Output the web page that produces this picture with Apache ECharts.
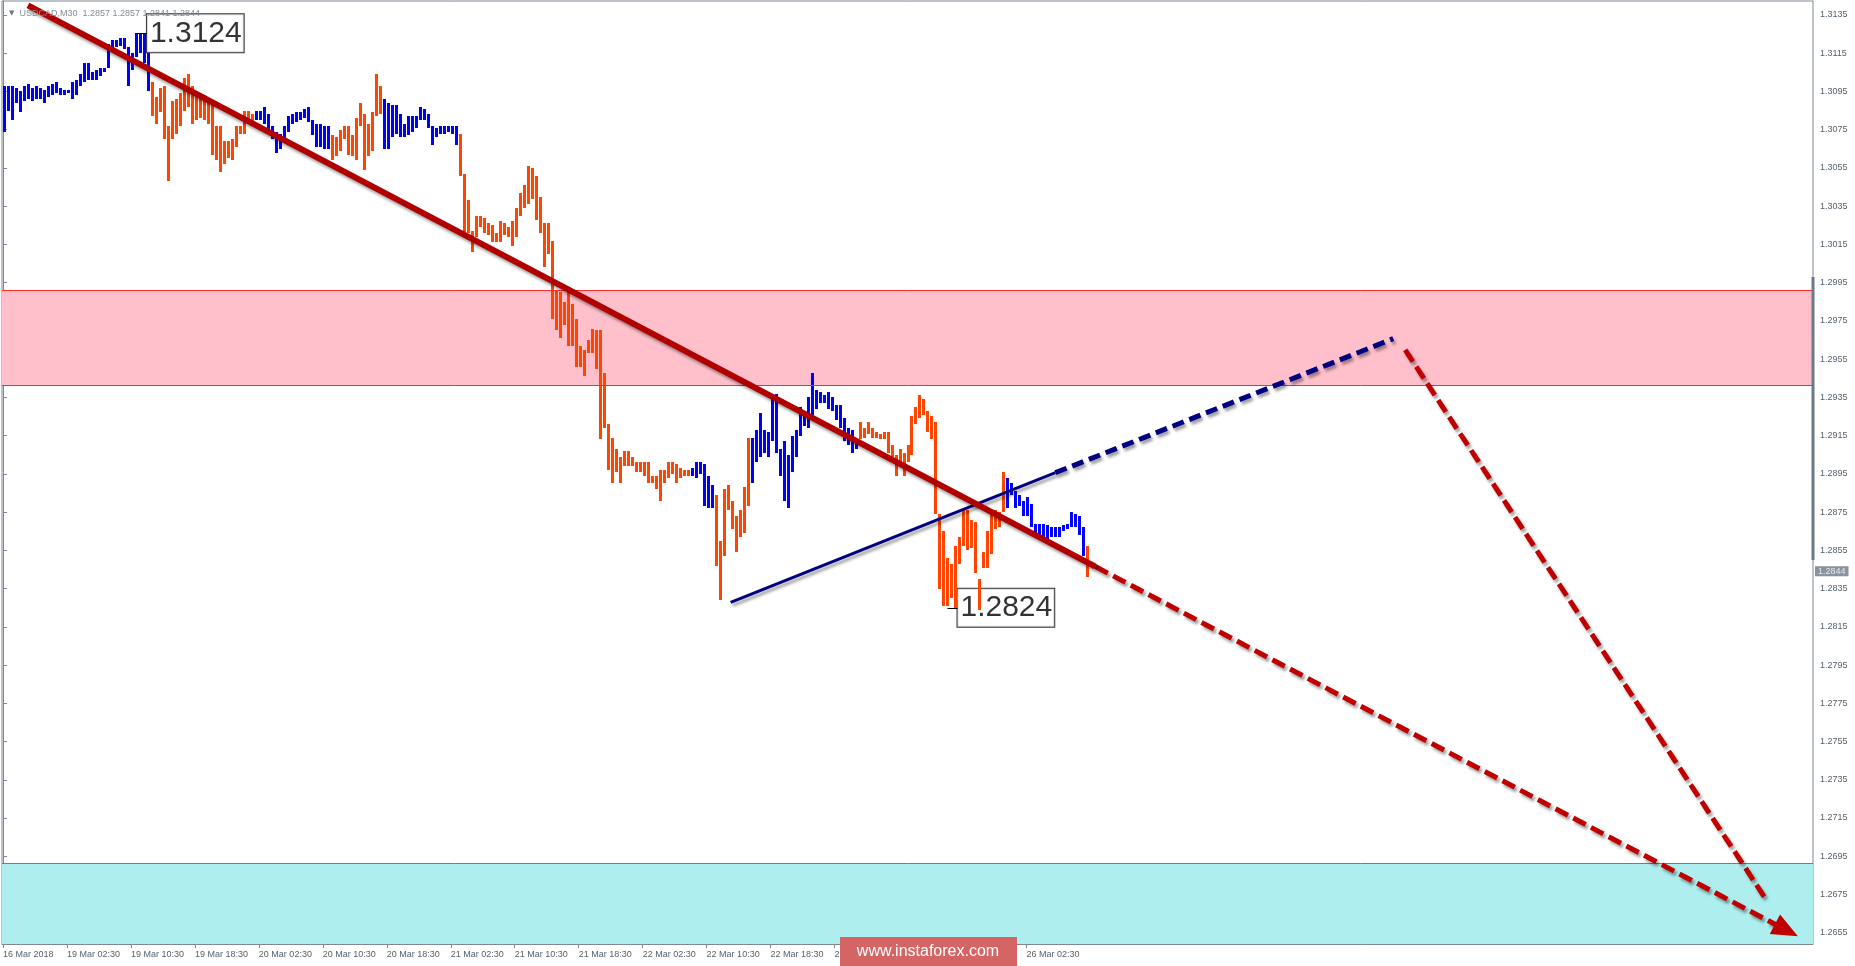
<!DOCTYPE html>
<html><head><meta charset="utf-8">
<script src="https://cdn.jsdelivr.net/npm/echarts@6/dist/echarts.min.js"></script>
<style>html,body{margin:0;padding:0;background:#fff;}#c{width:1855px;height:966px;}</style>
</head><body><div id="c"></div>
<script>
// ---- DATA (USDCAD M30 bars) ----
const highs = [
1.3098,1.3098,1.3098,1.3097,1.3095,1.3098,1.3099,1.3097,1.3098,1.3097,
1.3096,1.3098,1.3099,1.3100,1.3097,1.3096,1.3096,1.3100,1.3101,1.3104,
1.3110,1.3110,1.3105,1.3106,1.3107,1.3107,1.3120,1.3122,1.3122,1.3123,
1.3123,1.3118,1.3115,1.3125,1.3125,1.3125,1.3115,1.3100,1.3092,1.3097,
1.3098,1.3077,1.3090,1.3091,1.3094,1.3102,1.3104,1.3098,1.3095,1.3094,
1.3093,1.3091,1.3088,1.3077,1.3077,1.3069,1.3069,1.3070,1.3077,1.3077,
1.3085,1.3085,1.3083,1.3085,1.3085,1.3087,1.3083,1.3077,1.3074,1.3073,
1.3077,1.3082,1.3083,1.3084,1.3084,1.3086,1.3087,1.3080,1.3078,1.3078,
1.3077,1.3077,1.3072,1.3071,1.3075,1.3077,1.3077,1.3072,1.3081,1.3089,
1.3083,1.3078,1.3084,1.3104,1.3098,1.3091,1.3089,1.3088,1.3088,1.3083,
1.3078,1.3082,1.3082,1.3082,1.3087,1.3086,1.3083,1.3077,1.3076,1.3077,
1.3077,1.3077,1.3077,1.3077,1.3073,1.3052,1.3038,1.3022,1.3030,1.3030,
1.3029,1.3026,1.3025,1.3021,1.3027,1.3026,1.3024,1.3027,1.3034,1.3042,
1.3046,1.3056,1.3055,1.3051,1.3040,1.3026,1.3026,1.3017,1.2991,1.2990,
1.2985,1.2990,1.2984,1.2976,1.2962,1.2960,1.2965,1.2971,1.2970,1.2970,
1.2948,1.2921,1.2914,1.2908,1.2904,1.2907,1.2907,1.2904,1.2901,1.2901,
1.2901,1.2901,1.2894,1.2894,1.2897,1.2897,1.2901,1.2901,1.2900,1.2898,
1.2897,1.2897,1.2898,1.2901,1.2901,1.2900,1.2894,1.2889,1.2884,1.2860,
1.2887,1.2889,1.2881,1.2873,1.2876,1.2888,1.2914,1.2914,1.2918,1.2927,
1.2918,1.2917,1.2935,1.2937,1.2908,1.2912,1.2905,1.2915,1.2918,1.2930,
1.2927,1.2935,1.2948,1.2939,1.2938,1.2936,1.2938,1.2935,1.2931,1.2931,
1.2924,1.2919,1.2918,1.2913,1.2922,1.2919,1.2922,1.2919,1.2917,1.2916,
1.2917,1.2917,1.2910,1.2905,1.2908,1.2906,1.2910,1.2925,1.2930,1.2936,
1.2934,1.2928,1.2925,1.2922,1.2874,1.2865,1.2851,1.2848,1.2857,1.2862,
1.2876,1.2876,1.2871,1.2870,1.2840,1.2854,1.2865,1.2874,1.2876,1.2875,
1.2896,1.2893,1.2890,1.2886,1.2884,1.2881,1.2883,1.2879,1.2869,1.2869,
1.2869,1.2868,1.2867,1.2867,1.2867,1.2868,1.2869,1.2875,1.2874,1.2873,
1.2867,1.2857
];
const lows = [
1.3074,1.3085,1.3080,1.3089,1.3084,1.3090,1.3091,1.3090,1.3091,1.3091,
1.3089,1.3092,1.3093,1.3094,1.3093,1.3093,1.3094,1.3091,1.3093,1.3098,
1.3100,1.3101,1.3101,1.3101,1.3103,1.3105,1.3107,1.3117,1.3118,1.3119,
1.3117,1.3098,1.3106,1.3113,1.3115,1.3110,1.3095,1.3082,1.3078,1.3084,
1.3070,1.3048,1.3070,1.3073,1.3077,1.3085,1.3087,1.3078,1.3080,1.3081,
1.3080,1.3078,1.3062,1.3059,1.3053,1.3057,1.3060,1.3059,1.3066,1.3073,
1.3073,1.3078,1.3078,1.3080,1.3080,1.3078,1.3074,1.3070,1.3063,1.3065,
1.3070,1.3074,1.3078,1.3079,1.3080,1.3081,1.3079,1.3072,1.3066,1.3066,
1.3065,1.3065,1.3059,1.3061,1.3064,1.3070,1.3062,1.3061,1.3059,1.3077,
1.3054,1.3061,1.3064,1.3082,1.3083,1.3065,1.3065,1.3071,1.3073,1.3071,
1.3071,1.3072,1.3074,1.3076,1.3080,1.3080,1.3076,1.3067,1.3071,1.3073,
1.3073,1.3074,1.3073,1.3067,1.3051,1.3021,1.3021,1.3011,1.3019,1.3024,
1.3021,1.3020,1.3016,1.3016,1.3016,1.3020,1.3019,1.3014,1.3019,1.3030,
1.3034,1.3036,1.3039,1.3028,1.3021,1.3003,1.3010,1.2976,1.2970,1.2966,
1.2973,1.2962,1.2962,1.2951,1.2951,1.2946,1.2958,1.2958,1.2950,1.2913,
1.2919,1.2897,1.2890,1.2896,1.2890,1.2899,1.2899,1.2899,1.2896,1.2896,
1.2894,1.2890,1.2890,1.2887,1.2881,1.2890,1.2893,1.2895,1.2890,1.2893,
1.2894,1.2894,1.2894,1.2893,1.2895,1.2878,1.2877,1.2877,1.2847,1.2829,
1.2852,1.2876,1.2866,1.2854,1.2862,1.2864,1.2878,1.2890,1.2901,1.2904,
1.2906,1.2904,1.2912,1.2906,1.2894,1.2881,1.2877,1.2896,1.2904,1.2915,
1.2920,1.2919,1.2926,1.2929,1.2932,1.2932,1.2929,1.2928,1.2923,1.2919,
1.2912,1.2910,1.2906,1.2908,1.2913,1.2914,1.2916,1.2914,1.2914,1.2913,
1.2913,1.2906,1.2904,1.2894,1.2901,1.2894,1.2901,1.2905,1.2921,1.2924,
1.2926,1.2917,1.2913,1.2874,1.2835,1.2826,1.2826,1.2830,1.2825,1.2848,
1.2857,1.2855,1.2856,1.2843,1.2824,1.2846,1.2846,1.2853,1.2866,1.2867,
1.2875,1.2877,1.2884,1.2877,1.2878,1.2873,1.2873,1.2867,1.2862,1.2862,
1.2862,1.2861,1.2862,1.2862,1.2862,1.2865,1.2866,1.2867,1.2867,1.2863,
1.2852,1.2841
];
// 1 = bullish bar (blue), 0 = bearish bar (orange)
const upBar = [
1,1,1,1,1,1,1,1,1,1,
1,1,1,1,1,1,1,1,1,1,
1,1,1,1,1,1,1,1,1,1,
1,1,1,1,1,1,1,0,0,0,
0,0,0,0,0,0,0,0,0,0,
0,0,0,0,0,0,0,0,0,0,
0,0,0,1,1,1,1,1,1,1,
1,1,1,1,1,1,1,1,1,1,
1,1,0,0,0,0,0,0,0,0,
0,0,0,0,0,1,1,1,1,1,
1,1,1,1,1,1,1,1,1,1,
1,1,1,1,0,0,0,0,0,0,
0,0,0,0,0,0,0,0,0,0,
0,0,0,0,0,0,0,0,0,0,
0,0,0,0,0,0,0,0,0,0,
0,0,0,0,0,0,0,0,0,0,
0,0,0,0,0,0,0,0,0,0,
0,0,1,1,1,1,1,1,0,0,
0,0,0,0,0,0,0,1,1,1,
1,1,1,1,1,1,1,1,1,1,
1,1,1,1,1,1,1,1,1,1,
1,1,1,1,0,0,0,0,0,0,
0,0,0,0,0,0,0,0,0,0,
0,0,0,0,0,0,0,0,0,0,
0,0,0,0,0,0,0,0,0,0,
0,1,1,1,1,1,1,1,1,1,
1,1,1,1,1,1,1,1,1,1,
1,0
];
const yTickValues = [1.3135,1.3115,1.3095,1.3075,1.3055,1.3035,1.3015,1.2995,1.2975,1.2955,1.2935,1.2915,1.2895,1.2875,1.2855,1.2835,1.2815,1.2795,1.2775,1.2755,1.2735,1.2715,1.2695,1.2675,1.2655];
const xTickIndex = [0,16,32,48,64,80,96,112,128,144,160,176,192,208,224,240,256];
const xTickLabels = ['16 Mar 2018','19 Mar 02:30','19 Mar 10:30','19 Mar 18:30','20 Mar 02:30','20 Mar 10:30','20 Mar 18:30','21 Mar 02:30','21 Mar 10:30','21 Mar 18:30','22 Mar 02:30','22 Mar 10:30','22 Mar 18:30','23 Mar 02:30','23 Mar 10:30','23 Mar 18:30','26 Mar 02:30'];
const pinkZone = [1.29411, 1.29912];
const cyanZone = [1.26491, 1.26913];
const lastPrice = 1.2844;
const rangeMarker = [1.2998, 1.2850];
const headerText = 'USDCAD,M30  1.2857 1.2857 1.2841 1.2844';
// trend lines: [bar index, price]
const trendThick = [[6.25, 1.31400], [273.25, 1.28465]];
const trendThickDash = [[273.25, 1.28465], [446.1, 1.26563]];
const trendThin = [[-0.5, 1.31150], [177.6, 1.28302]];
const navySolid = [[182, 1.28278], [263.25, 1.28956]];
const navyDash = [[263.25, 1.28956], [347.75, 1.29657]];
const redDash2 = [[350.75, 1.29598], [440.75, 1.26732]];
const noteIdx = [33, 236.25];
const notePrice = [1.31254, 1.28249];
const noteText = ['1.3124', '1.2824'];
const noteLeaderEnd = [36, 238.75];

// ---- CHART ----
const FONT = '"Liberation Sans", Arial, sans-serif';
const UP = '#0000FF', DOWN = '#FF4500';
const AXIS = '#7d8893', TXT = '#55616d';
const shadow = {shadowColor:'rgba(0,0,0,0.38)', shadowBlur:3, shadowOffsetX:2, shadowOffsetY:3};
const chart = echarts.init(document.getElementById('c'), null, {renderer:'canvas'});
const barData = highs.map((h, i) => [i, h, lows[i], upBar[i]]);

function seg(pts, style, arrowSize) {
  return [
    {coord: pts[0], symbol: 'none', lineStyle: style},
    arrowSize ? {coord: pts[1], symbol: 'triangle', symbolSize: arrowSize, itemStyle:{color: style.color}} : {coord: pts[1], symbol: 'none'}
  ];
}

const option = {
  animation: false,
  backgroundColor: '#ffffff',
  title: {
    text: '{t|▼}  ' + headerText, left: 4, top: 4,
    textStyle: {fontSize: 9, fontWeight: 'normal', color: '#838b93', fontFamily: FONT,
      rich: {t: {fontSize: 7, color: '#6f7780', fontFamily: 'DejaVu Sans'}}}
  },
  grid: {left: 1, top: 1, right: 42, bottom: 22, show: true, borderColor: AXIS, borderWidth: 1, backgroundColor: '#fff'},
  xAxis: {
    type: 'value', min: -0.25, max: 452.75,
    axisLine: {show: true, lineStyle: {color: AXIS}},
    splitLine: {show: false},
    axisTick: {show: true, customValues: xTickIndex, length: 4, lineStyle: {color: AXIS}},
    axisLabel: {customValues: xTickIndex, align: 'left', margin: 6, fontSize: 9, color: TXT, fontFamily: FONT,
      formatter: v => xTickLabels[xTickIndex.indexOf(Math.round(v))] || ''}
  },
  yAxis: {
    type: 'value', position: 'right', min: 1.26491, max: 1.31423,
    axisLine: {show: true, lineStyle: {color: AXIS}},
    splitLine: {show: false},
    axisTick: {show: true, customValues: yTickValues, length: 4, lineStyle: {color: AXIS}},
    axisLabel: {customValues: yTickValues, margin: 7, fontSize: 9, color: TXT, fontFamily: FONT,
      formatter: v => Number(v).toFixed(4)}
  },
  series: [
    {
      type: 'custom', name: 'bars', z: 3,
      data: barData,
      encode: {x: 0, y: [1, 2]},
      renderItem: function (params, api) {
        const i = api.value(0);
        const t = api.coord([i, api.value(1)]);
        const b = api.coord([i, api.value(2)]);
        const y1 = Math.round(t[1]), y2 = Math.round(b[1]);
        return {type: 'rect', shape: {x: Math.round(t[0]), y: y1, width: 3, height: Math.max(2, y2 - y1)},
          style: {fill: api.value(3) ? UP : DOWN}};
      }
    },
    {
      type: 'line', name: 'trend', z: 5, symbol: 'none', silent: true,
      data: trendThick,
      lineStyle: Object.assign({color: '#B00000', width: 6}, shadow),
      markArea: {
        silent: true, z: 1,
        data: [
          [{yAxis: pinkZone[0], itemStyle: {color: '#FFC0CB'}}, {yAxis: pinkZone[1]}],
          [{yAxis: cyanZone[0], itemStyle: {color: '#AFEEEE'}}, {yAxis: cyanZone[1]}]
        ]
      },
      markLine: {
        silent: true, symbol: ['none', 'none'], label: {show: false}, emphasis: {disabled: true},
        animation: false, precision: 6,
        data: [
          {yAxis: pinkZone[1], lineStyle: {color: '#FF2A2A', width: 1, type: 'solid'}},
          {yAxis: pinkZone[0], lineStyle: {color: '#FF2A2A', width: 1, type: 'solid'}},
          {yAxis: cyanZone[1], lineStyle: {color: '#1E90FF', width: 1, type: 'solid'}},
          seg(trendThickDash, Object.assign({color: '#C00000', width: 5, type: [14, 6]}, shadow), [22, 26]),
          seg(trendThin, Object.assign({color: '#C40000', width: 3, type: 'solid'}, shadow), [13, 15]),
          seg(navySolid, Object.assign({color: '#000080', width: 3, type: 'solid'}, shadow)),
          seg(navyDash, Object.assign({color: '#000080', width: 5, type: [12, 6]}, shadow)),
          seg(redDash2, Object.assign({color: '#C00000', width: 5, type: [14, 6]}, shadow)),
          seg([[noteIdx[0], notePrice[0]], [noteLeaderEnd[0], notePrice[0]]], {color: '#000', width: 1, type: 'solid'}),
          seg([[noteIdx[1], notePrice[1]], [noteLeaderEnd[1], notePrice[1]]], {color: '#000', width: 1, type: 'solid'})
        ]
      }
    },
    {
      type: 'scatter', name: 'notes', z: 2, symbolSize: 0, silent: true, clip: false,
      data: noteIdx.map((x, k) => ({value: [x, notePrice[k]], name: noteText[k],
        label: {distance: k === 0 ? 12 : 10}})),
      label: {show: true, position: 'right', formatter: '{b}', fontSize: 30, lineHeight: 31,
        color: '#000', fontFamily: FONT, backgroundColor: '#fff', borderColor: '#000', borderWidth: 1,
        padding: [4, 2, 3, 3]}
    },
    {
      type: 'line', name: 'range', z: 6, symbol: 'none', silent: true, clip: false,
      data: [[452.75, rangeMarker[0]], [452.75, rangeMarker[1]]],
      lineStyle: {color: '#6c7987', width: 3}
    },
    {
      type: 'scatter', name: 'last', z: 7, symbolSize: 0, silent: true, clip: false,
      data: [{value: [452.75, lastPrice], name: lastPrice.toFixed(4)}],
      label: {show: true, position: 'right', distance: 2, formatter: '{b}', fontSize: 9, lineHeight: 10,
        color: '#fff', backgroundColor: '#6b7885', padding: [0, 3, 0, 3], fontFamily: FONT}
    }
  ],
  graphic: [
    {type: 'rect', x: 840, y: 937, shape: {width: 177, height: 29}, style: {fill: '#D56565'}, z: 100},
    {type: 'text', x: 928, y: 952, z: 101,
      style: {text: 'www.instaforex.com', fill: '#ffffff', font: '16px "Liberation Sans", Arial, sans-serif',
        align: 'center', verticalAlign: 'middle'}}
  ]
};
chart.setOption(option);
</script>
</body></html>
